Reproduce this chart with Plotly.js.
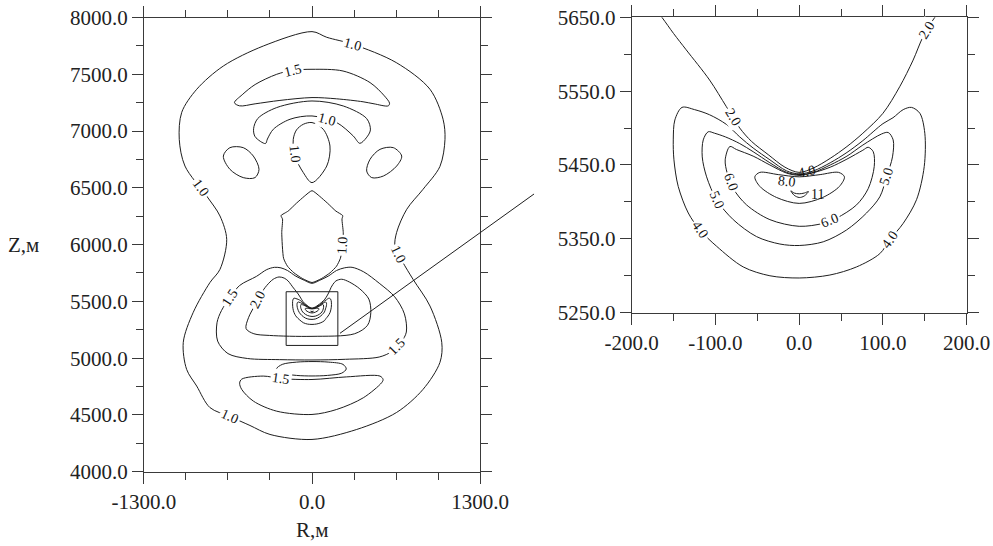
<!DOCTYPE html>
<html>
<head>
<meta charset="utf-8">
<script src="https://cdn.plot.ly/plotly-3.0.1.min.js"></script>
<style>
  html, body { margin: 0; padding: 0; background: #fff; }
  #chart { width: 993px; height: 546px; }
</style>
</head>
<body>
<div id="chart"></div>
<script>
// Isolines of the field in the (R, Z) plane, metres.

// outer isoline 1.0
const outer10R = [0, 114, 317, 652, 913, 1014, 1029, 990, 859, 733, 655, 642, 700, 782, 913, 1004, 990, 859, 655, 346, 0, -325, -480, -635, -790, -892, -970, -996, -919, -789, -712, -660, -712, -815, -983, -1027, -1008, -892, -686, -377, 0];
const outer10Z = [7876, 7826, 7764, 7603, 7368, 7104, 6927, 6689, 6487, 6311, 6108, 5985, 5850, 5694, 5459, 5139, 4963, 4725, 4522, 4372, 4284, 4328, 4407, 4486, 4565, 4754, 4901, 5139, 5403, 5667, 5782, 6046, 6252, 6428, 6692, 6927, 7165, 7368, 7573, 7749, 7876];

// upper crescent 1.5
const crest15R = [-600, -540, -440, -273, -149, 0, 240, 449, 560, 600, 590, 480, 395, 191, 0, -248, -440, -560, -600];
const crest15Z = [7250, 7320, 7410, 7500, 7535, 7544, 7529, 7427, 7310, 7245, 7222, 7240, 7258, 7284, 7295, 7270, 7240, 7222, 7250];

// arch 1.0 under the crescent
const arch10R = [-360, -440, -452, -420, -273, 0, 242, 423, 452, 420, 370, 320, 191, 0, -170, -299, -345, -360];
const arch10Z = [6890, 6950, 7020, 7110, 7207, 7265, 7221, 7110, 7010, 6940, 6892, 6956, 7075, 7133, 7104, 7016, 6930, 6890];

// central drop 1.0
const drop10R = [0, -67, -120, -145, -132, -67, 0, 114, 139, 87, 0];
const drop10Z = [7075, 7060, 7010, 6927, 6780, 6634, 6546, 6692, 6868, 7016, 7075];

// side ovals 1.0
const ovalL10R = [-686, -635, -532, -454, -410, -441, -532, -635, -686];
const ovalL10Z = [6780, 6854, 6854, 6780, 6663, 6590, 6590, 6663, 6780];
const ovalR10R = [694, 629, 526, 449, 423, 462, 552, 655, 694];
const ovalR10Z = [6780, 6854, 6839, 6751, 6648, 6590, 6604, 6692, 6780];

// flame 1.0 above the source
const flame10R = [0, 60, 120, 185, 238, 232, 242, 236, 220, 190, 140, 75, 0, -75, -140, -190, -220, -234, -228, -240, -185, -120, -60, 0];
const flame10Z = [6475, 6425, 6365, 6295, 6255, 6225, 6105, 5980, 5880, 5810, 5752, 5702, 5666, 5702, 5752, 5810, 5880, 6105, 6225, 6255, 6295, 6365, 6425, 6475];

// lobe 1.5 around the source
const lobe15R = [0, 60, 125, 190, 250, 310, 400, 520, 640, 715, 730, 690, 620, 520, 260, 0, -250, -500, -650, -730, -735, -700, -635, -560, -430, -350, -290, -240, -190, -125, -60, 0];
const lobe15Z = [5659, 5686, 5722, 5772, 5795, 5800, 5760, 5660, 5540, 5390, 5230, 5140, 5060, 5010, 4990, 4984, 4987, 4997, 5040, 5150, 5312, 5420, 5533, 5640, 5720, 5780, 5800, 5795, 5772, 5722, 5686, 5659];

// lobe 2.0
const lobe20R = [0, -17, -37, -57, -71, -87, -107, -135, -150, -164, -185, -215, -255, -300, -350, -400, -440, -490, -510, -450, -330, 0, 330, 430, 455, 440, 370, 290, 230, 185, 162, 148, 136, 120, 100, 76, 57, 37, 17, 0];
const lobe20Z = [5440, 5447, 5464, 5482, 5500, 5529, 5565, 5606, 5628, 5650, 5680, 5705, 5715, 5695, 5640, 5560, 5470, 5360, 5260, 5215, 5200, 5192, 5215, 5290, 5400, 5520, 5610, 5670, 5695, 5680, 5650, 5624, 5592, 5556, 5520, 5493, 5475, 5459, 5446, 5440];

// isolines 4.0, 5.0, 6.0, 8.0 and 11 near the source
const lobe40R = [0, -15, -35, -55, -71, -87, -107, -125, -140, -148.5, -150.4, -149.6, -144.5, -132.5, -118.6, -98.7, -66.9, -35, 0, 36.6, 68.5, 96.3, 108.3, 124.2, 140.1, 149.3, 150, 144.1, 134.1, 124.2, 112, 100, 76, 57, 37, 17, 0];
const lobe40Z = [5438, 5442, 5457, 5473, 5488, 5505, 5518, 5525, 5528, 5511, 5484, 5457, 5421, 5385, 5362, 5340, 5312, 5300, 5297, 5301, 5312, 5330, 5349, 5371, 5403, 5448, 5493, 5520, 5528, 5525, 5514, 5506, 5483, 5467, 5453, 5442, 5438];

const lobe50R = [0, -15, -35, -55, -71, -88, -101, -108.7, -114.6, -115.8, -110.6, -98.7, -78.8, -50.9, -23.1, 0, 28.7, 56.5, 80.4, 96.3, 104.3, 111.4, 112.2, 106.3, 98.3, 76, 57, 37, 17, 0];
const lobe50Z = [5437, 5440, 5453, 5468, 5479, 5488, 5493, 5495, 5484, 5461, 5434, 5403, 5376, 5353, 5343, 5341, 5346, 5362, 5385, 5407, 5434, 5461, 5484, 5494, 5492, 5477, 5462, 5450, 5440, 5437];

const lobe60R = [0, -15, -35, -55, -75, -82.8, -88.4, -86, -78.8, -62.9, -35, 0, 28.7, 44.6, 68.5, 82.4, 89.6, 88.4, 82.4, 76, 57, 37, 15, 0];
const lobe60Z = [5436, 5439, 5450, 5462, 5471, 5475, 5457, 5439, 5418, 5396, 5376, 5367, 5371, 5378, 5396, 5418, 5448, 5468, 5474, 5470, 5458, 5447, 5439, 5436];

const lobe80R = [-53, -47, -27, 0, 28, 48, 54, 47, 25, 0, -25, -47, -53];
const lobe80Z = [5434, 5421, 5406, 5398, 5406, 5421, 5434, 5440, 5437, 5434, 5437, 5440, 5434];

const lobe11R = [-10, -6, 0, 6, 11, 6, 0, -6, -10];
const lobe11Z = [5415, 5409, 5406, 5408, 5414, 5412, 5411, 5412, 5415];

// lower oval and lower crescent 1.5
const ovalLow15R = [-275, -230, -120, 0, 130, 240, 265, 230, 120, 0, -120, -230, -275];
const ovalLow15Z = [4905, 4945, 4965, 4970, 4965, 4945, 4905, 4868, 4848, 4843, 4848, 4868, 4905];

const low15R = [-560, -544, -377, -240, 0, 268, 526, 550, 539, 397, 191, 0, -273, -454, -544, -560];
const low15Z = [4780, 4815, 4842, 4820, 4812, 4835, 4842, 4812, 4784, 4651, 4548, 4504, 4533, 4622, 4725, 4780];

// inset frame on the overview panel
const insetR = [-200, 200];
const insetZ = [5112, 5585];

// axis ranges and labelled ticks
const overviewR = [-1300, 1300];
const overviewZ = [4000, 8000];
const detailR = [-200, 200];
const detailZ = [5250, 5650];
const overviewTickR = [-1300, 0, 1300];
const overviewTickZ = [4000, 4500, 5000, 5500, 6000, 6500, 7000, 7500, 8000];
const detailTickR = [-200, -100, 0, 100, 200];
const detailTickZ = [5250, 5350, 5450, 5550, 5650];

// isoline labels: overview panel
const ovLabelText = ['1.0', '1.5', '1.0', '1.0', '1.0', '1.0', '1.0', '1.5', '2.0', '1.5', '1.5', '1.0'];
const ovLabelR = [317, -149, 114, -137, -862, 234, 671, -635, -420, 655, -240, -635];
const ovLabelZ = [7764, 7535, 7098, 6800, 6502, 5990, 5917, 5533, 5515, 5100, 4820, 4486];
const ovLabelLine = ['outer10', 'crest15', 'arch10', 'drop10', 'outer10', 'flame10', 'outer10', 'lobe15', 'lobe20', 'lobe15', 'low15', 'outer10'];

// isoline labels: detail panel
const dtLabelText = ['2.0', '2.0', '4.0', '4.0', '5.0', '5.0', '6.0', '6.0', '4.0', '8.0', '11'];
const dtLabelR = [-79, 153, -118.6, 108.3, -98.7, 104.3, -82, 36.6, 9, -14, 22];
const dtLabelZ = [5514, 5633, 5362, 5349, 5403, 5434, 5427, 5374, 5441, 5428, 5410];
const dtLabelLine = ['lobe20', 'lobe20', 'lobe40', 'lobe40', 'lobe50', 'lobe50', 'lobe60', 'lobe60', 'lobe40', 'lobe80', null];

const lines = {
  outer10: [outer10R, outer10Z], crest15: [crest15R, crest15Z], arch10: [arch10R, arch10Z],
  drop10: [drop10R, drop10Z], ovalL10: [ovalL10R, ovalL10Z], ovalR10: [ovalR10R, ovalR10Z],
  flame10: [flame10R, flame10Z], lobe15: [lobe15R, lobe15Z], lobe20: [lobe20R, lobe20Z],
  lobe40: [lobe40R, lobe40Z], lobe50: [lobe50R, lobe50Z], lobe60: [lobe60R, lobe60Z],
  lobe80: [lobe80R, lobe80Z], lobe11: [lobe11R, lobe11Z],
  ovalLow15: [ovalLow15R, ovalLow15Z], low15: [low15R, low15Z]
};

const SERIF = 'Liberation Serif, Times New Roman, serif';
const INK = '#1e1e1e';
const AXIS = '#3a3a3a';
// lines with corners (the flame tip) get a lighter smoothing
const lightSmoothing = new Set(['flame10']);

const traces = [];
for (const key of Object.keys(lines)) {
  const [r, z] = lines[key];
  for (const [xa, ya] of [['x', 'y'], ['x2', 'y2']]) {
    traces.push({
      type: 'scatter', mode: 'lines', x: r, y: z, xaxis: xa, yaxis: ya,
      line: { color: INK, width: 1, shape: 'spline', smoothing: lightSmoothing.has(key) ? 0.55 : 0.9 },
      hoverinfo: 'skip', showlegend: false
    });
  }
}

// ticks written with a plain hyphen-minus and one decimal
function axisBase(vals, extra) {
  return Object.assign({
    showline: true, linecolor: AXIS, linewidth: 1, mirror: 'ticks',
    ticks: 'outside', ticklen: 11, tickwidth: 1, tickcolor: AXIS,
    showgrid: false, zeroline: false,
    tickmode: 'array', tickvals: vals, ticktext: vals.map(v => v.toFixed(1)),
    tickfont: { family: SERIF, size: 21, color: '#222' }, fixedrange: true
  }, extra);
}
const minorTicks = (t0, d) => ({ tickmode: 'linear', tick0: t0, dtick: d, ticklen: 7, ticks: 'outside', tickcolor: AXIS, tickwidth: 1, showgrid: false });

const layout = {
  width: 993, height: 546,
  margin: { l: 0, r: 0, t: 0, b: 0 },
  paper_bgcolor: '#fff', plot_bgcolor: '#fff',
  showlegend: false,
  xaxis: axisBase(overviewTickR, { domain: [0.1450, 0.4834], range: overviewR, minor: minorTicks(-1300, 325), anchor: 'y' }),
  yaxis: axisBase(overviewTickZ, { domain: [0.1361, 0.9679], range: overviewZ, minor: minorTicks(4000, 250), anchor: 'x' }),
  xaxis2: axisBase(detailTickR, { domain: [0.6362, 0.9735], range: detailR, minor: minorTicks(-200, 50), anchor: 'y2' }),
  yaxis2: axisBase(detailTickZ, { domain: [0.4273, 0.9683], range: detailZ, minor: minorTicks(5250, 50), anchor: 'x2' }),
  shapes: [
    { type: 'rect', xref: 'x', yref: 'y', x0: insetR[0], x1: insetR[1], y0: insetZ[0], y1: insetZ[1],
      line: { color: INK, width: 1 } },
    { type: 'line', xref: 'paper', yref: 'paper', x0: 0.3424, y0: 0.3896, x1: 0.5378, y1: 0.6447,
      line: { color: INK, width: 1 } }
  ],
  annotations: [
    { xref: 'paper', yref: 'y', x: 0.0237, y: 6000, text: 'Z,м', showarrow: false,
      xanchor: 'center', yanchor: 'middle', font: { family: SERIF, size: 21, color: '#222' } },
    { xref: 'x', yref: 'paper', x: 0, y: 0.003, text: 'R,м', showarrow: false,
      xanchor: 'center', yanchor: 'bottom', font: { family: SERIF, size: 21, color: '#222' } }
  ]
};

const gd = document.getElementById('chart');

// place a label on its isoline: snap to the nearest segment and turn it along the line
function placeLabel(text, r, z, lineKey, xa, ya, xref, yref, masked) {
  let px = xa.c2p(r), py = ya.c2p(z), angle = 0;
  if (lineKey) {
    const [lr, lz] = lines[lineKey];
    let best = Infinity, bx = px, by = py, ang = 0;
    for (let i = 0; i < lr.length - 1; i++) {
      const ax = xa.c2p(lr[i]), ay = ya.c2p(lz[i]);
      const bx2 = xa.c2p(lr[i + 1]), by2 = ya.c2p(lz[i + 1]);
      const dx = bx2 - ax, dy = by2 - ay;
      const L2 = dx * dx + dy * dy || 1;
      let t = ((px - ax) * dx + (py - ay) * dy) / L2;
      t = Math.max(0, Math.min(1, t));
      const qx = ax + t * dx, qy = ay + t * dy;
      const d = (qx - px) ** 2 + (qy - py) ** 2;
      if (d < best) { best = d; bx = qx; by = qy; ang = Math.atan2(dy, dx) * 180 / Math.PI; }
    }
    if (ang > 90) ang -= 180;
    if (ang < -90) ang += 180;
    angle = ang;
    if (masked) { px = bx; py = by; }
  }
  return {
    xref, yref, x: xa.p2c(px), y: ya.p2c(py), text, showarrow: false,
    textangle: angle, xanchor: 'center', yanchor: 'middle',
    font: { family: SERIF, size: 14, color: '#111' },
    bgcolor: masked ? '#ffffff' : 'rgba(0,0,0,0)', borderpad: 1
  };
}

Plotly.newPlot(gd, traces, layout, { displayModeBar: false, staticPlot: true }).then(() => {
  const fl = gd._fullLayout;
  const anns = layout.annotations.slice();
  ovLabelText.forEach((t, i) => {
    anns.push(placeLabel(t, ovLabelR[i], ovLabelZ[i], ovLabelLine[i], fl.xaxis, fl.yaxis, 'x', 'y', true));
  });
  const bundle = new Set([8, 9, 10]);
  dtLabelText.forEach((t, i) => {
    anns.push(placeLabel(t, dtLabelR[i], dtLabelZ[i], dtLabelLine[i], fl.xaxis2, fl.yaxis2, 'x2', 'y2', !bundle.has(i)));
  });
  return Plotly.relayout(gd, { annotations: anns });
});
</script>
</body>
</html>
